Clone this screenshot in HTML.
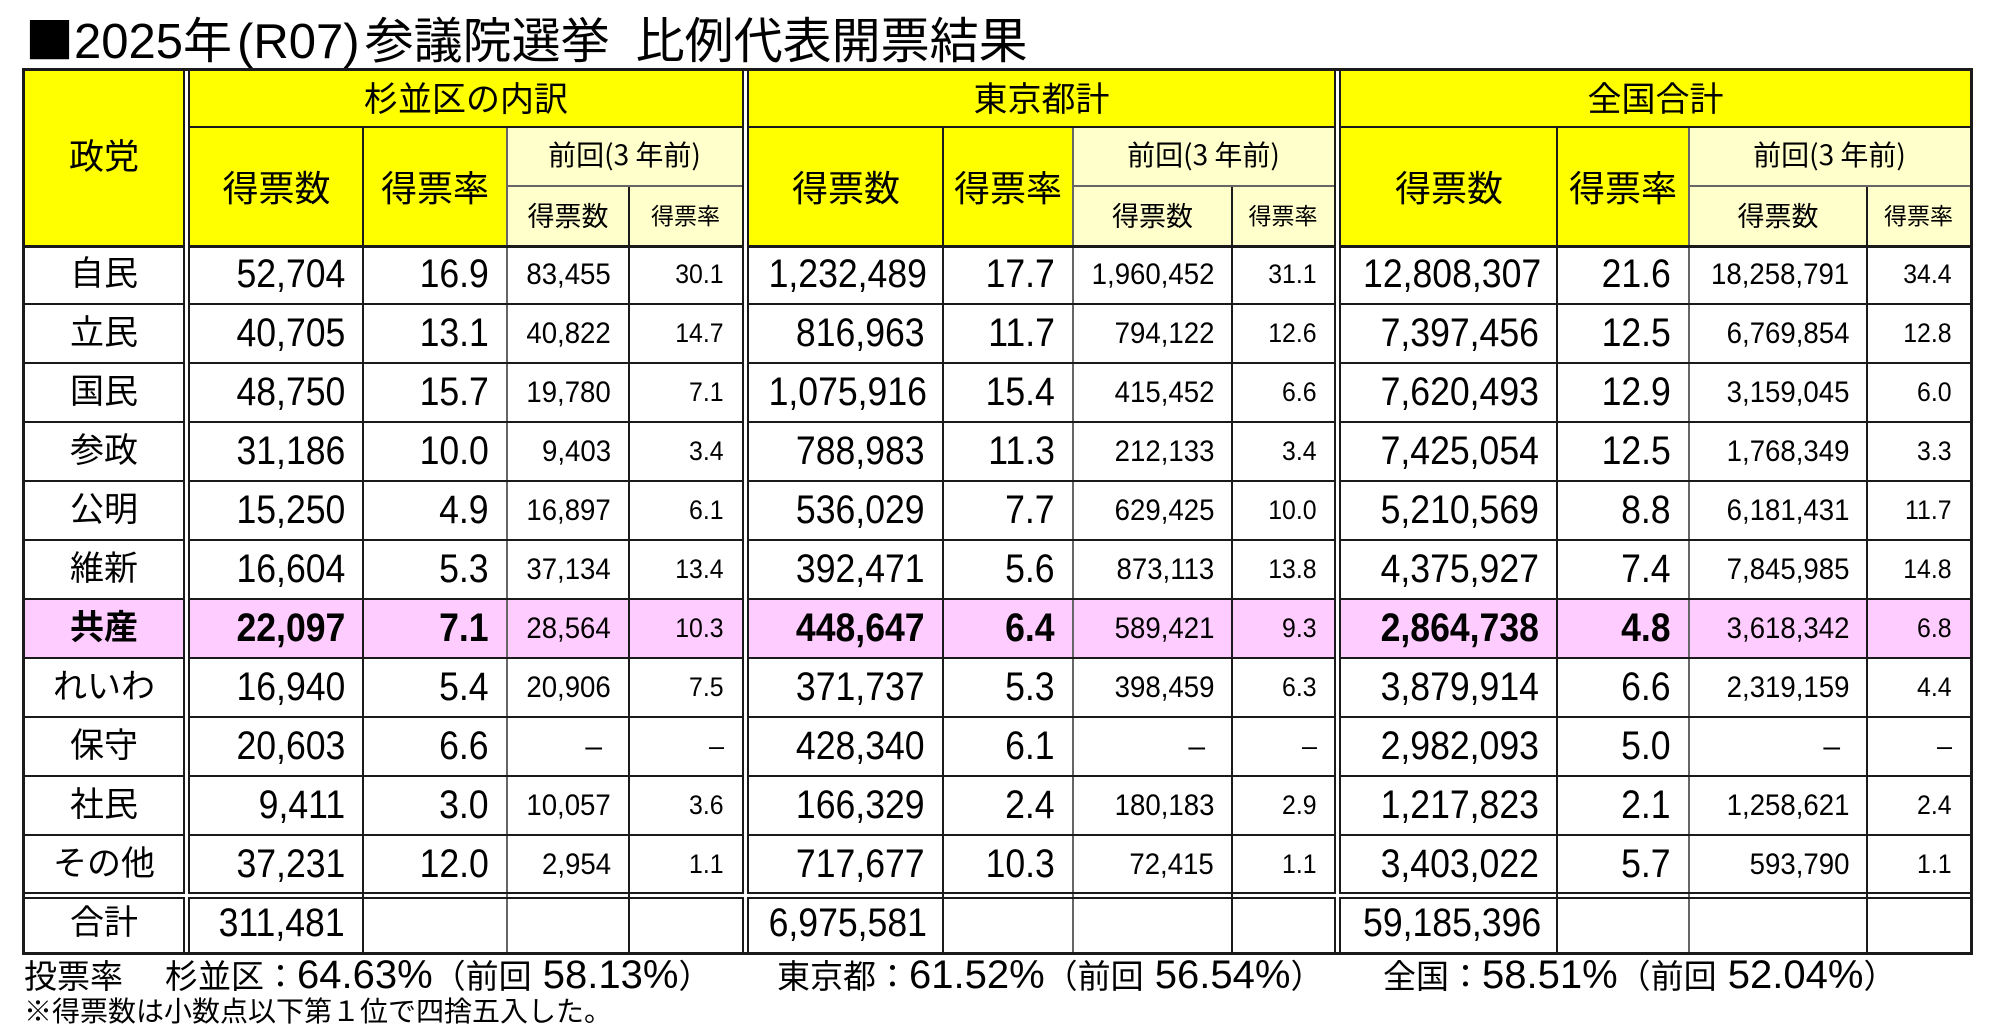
<!DOCTYPE html>
<html><head><meta charset="utf-8">
<style>
html,body{margin:0;padding:0;background:#fff;}
body{width:2000px;height:1033px;position:relative;overflow:hidden;font-family:"Liberation Sans","Noto Sans CJK JP",sans-serif;color:#000;}
.abs{position:absolute;}
.j{font-family:"Noto Sans CJK JP","Liberation Sans",sans-serif;}
.hd{position:absolute;text-align:center;white-space:nowrap;font-family:"Noto Sans CJK JP",sans-serif;}
.L{position:absolute;background:#1a1a1a;}
.G{position:absolute;background:#666;}
.W{position:absolute;background:#fff;}
table.t{position:absolute;left:25px;top:245px;border-collapse:collapse;border-spacing:0;table-layout:fixed;width:1945px;}
table.t td{padding:0;height:59px;line-height:59px;white-space:nowrap;overflow:visible;vertical-align:middle;}
table.t td.p{font-size:34px;text-align:center;}
table.t td.a,table.t td.b{font-size:40px;text-align:right;padding-right:18px;}
table.t td.c{font-size:30px;text-align:right;padding-right:18px;}
table.t td.d{font-size:27px;text-align:right;padding-right:18px;}
table.t td.dc{padding-right:27px;}
.n{display:inline-block;transform:scaleX(.92);transform-origin:100% 50%;}
table.t td.a .n,table.t td.b .n{transform:scaleX(.89);}
tr.k td{background:#ffccff;font-weight:bold;}
table.t tr.k td.c,table.t tr.k td.d{font-weight:normal;}
table.t tr.k td.s{background:#fff;}
.ft{position:absolute;white-space:nowrap;font-size:40px;line-height:40px;}
.ft .k{font-size:33px;font-family:"Noto Sans CJK JP",sans-serif;}
</style></head>
<body>

<!-- Title -->
<div class="abs" style="left:25px;top:13px;font-size:49px;line-height:49px;white-space:nowrap;"><span class="j">■</span>2025<span class="j">年</span><span style="margin-left:5px">(</span>R07<span style="margin-right:5px">)</span><span class="j">参議院選挙</span><span style="display:inline-block;width:26px"></span><span class="j">比例代表開票結果</span></div>

<!-- Header backgrounds -->
<div class="abs" style="left:25px;top:71px;width:1945px;height:174px;background:#ffff00;"></div>
<div class="abs" style="left:507px;top:127px;width:235px;height:118px;background:#ffffcc;"></div>
<div class="abs" style="left:1073px;top:127px;width:261px;height:118px;background:#ffffcc;"></div>
<div class="abs" style="left:1689px;top:127px;width:281px;height:118px;background:#ffffcc;"></div>
<div class="W" style="left:185px;top:71px;width:3px;height:177px;"></div>
<div class="W" style="left:744px;top:71px;width:3px;height:177px;"></div>
<div class="W" style="left:1336px;top:71px;width:3px;height:177px;"></div>

<!-- Header text -->
<div class="hd" style="left:25px;width:158px;top:137px;font-size:35px;line-height:35px;">政党</div>
<div class="hd" style="left:190px;width:552px;top:80px;font-size:34px;line-height:34px;">杉並区の内訳</div>
<div class="hd" style="left:749px;width:585px;top:80px;font-size:34px;line-height:34px;">東京都計</div>
<div class="hd" style="left:1341px;width:629px;top:80px;font-size:34px;line-height:34px;">全国合計</div>

<div class="hd" style="left:190px;width:173px;top:168px;font-size:36px;line-height:36px;">得票数</div>
<div class="hd" style="left:363px;width:144px;top:168px;font-size:36px;line-height:36px;">得票率</div>
<div class="hd" style="left:749px;width:194px;top:168px;font-size:36px;line-height:36px;">得票数</div>
<div class="hd" style="left:943px;width:130px;top:168px;font-size:36px;line-height:36px;">得票率</div>
<div class="hd" style="left:1341px;width:216px;top:168px;font-size:36px;line-height:36px;">得票数</div>
<div class="hd" style="left:1557px;width:132px;top:168px;font-size:36px;line-height:36px;">得票率</div>

<div class="hd" style="left:507px;width:235px;top:140px;font-size:28px;line-height:28px;">前回(3 年前)</div>
<div class="hd" style="left:1073px;width:261px;top:140px;font-size:28px;line-height:28px;">前回(3 年前)</div>
<div class="hd" style="left:1689px;width:281px;top:140px;font-size:28px;line-height:28px;">前回(3 年前)</div>

<div class="hd" style="left:507px;width:122px;top:201px;font-size:27px;line-height:27px;">得票数</div>
<div class="hd" style="left:629px;width:113px;top:203px;font-size:23px;line-height:23px;">得票率</div>
<div class="hd" style="left:1073px;width:159px;top:201px;font-size:27px;line-height:27px;">得票数</div>
<div class="hd" style="left:1232px;width:102px;top:203px;font-size:23px;line-height:23px;">得票率</div>
<div class="hd" style="left:1689px;width:178px;top:201px;font-size:27px;line-height:27px;">得票数</div>
<div class="hd" style="left:1867px;width:103px;top:203px;font-size:23px;line-height:23px;">得票率</div>

<!-- Data table -->
<table class="t">
<colgroup>
<col style="width:158px"><col style="width:7px"><col style="width:173px"><col style="width:144px"><col style="width:122px"><col style="width:113px"><col style="width:7px"><col style="width:194px"><col style="width:130px"><col style="width:159px"><col style="width:103px"><col style="width:6px"><col style="width:216px"><col style="width:132px"><col style="width:178px"><col style="width:103px">
</colgroup>
<tr><td class="p">自民</td><td class="s"></td><td class="a"><span class="n">52,704</span></td><td class="b"><span class="n">16.9</span></td><td class="c"><span class="n">83,455</span></td><td class="d"><span class="n">30.1</span></td><td class="s"></td><td class="a"><span class="n">1,232,489</span></td><td class="b"><span class="n">17.7</span></td><td class="c"><span class="n">1,960,452</span></td><td class="d"><span class="n">31.1</span></td><td class="s"></td><td class="a"><span class="n">12,808,307</span></td><td class="b"><span class="n">21.6</span></td><td class="c"><span class="n">18,258,791</span></td><td class="d"><span class="n">34.4</span></td></tr>
<tr><td class="p">立民</td><td class="s"></td><td class="a"><span class="n">40,705</span></td><td class="b"><span class="n">13.1</span></td><td class="c"><span class="n">40,822</span></td><td class="d"><span class="n">14.7</span></td><td class="s"></td><td class="a"><span class="n">816,963</span></td><td class="b"><span class="n">11.7</span></td><td class="c"><span class="n">794,122</span></td><td class="d"><span class="n">12.6</span></td><td class="s"></td><td class="a"><span class="n">7,397,456</span></td><td class="b"><span class="n">12.5</span></td><td class="c"><span class="n">6,769,854</span></td><td class="d"><span class="n">12.8</span></td></tr>
<tr><td class="p">国民</td><td class="s"></td><td class="a"><span class="n">48,750</span></td><td class="b"><span class="n">15.7</span></td><td class="c"><span class="n">19,780</span></td><td class="d"><span class="n">7.1</span></td><td class="s"></td><td class="a"><span class="n">1,075,916</span></td><td class="b"><span class="n">15.4</span></td><td class="c"><span class="n">415,452</span></td><td class="d"><span class="n">6.6</span></td><td class="s"></td><td class="a"><span class="n">7,620,493</span></td><td class="b"><span class="n">12.9</span></td><td class="c"><span class="n">3,159,045</span></td><td class="d"><span class="n">6.0</span></td></tr>
<tr><td class="p">参政</td><td class="s"></td><td class="a"><span class="n">31,186</span></td><td class="b"><span class="n">10.0</span></td><td class="c"><span class="n">9,403</span></td><td class="d"><span class="n">3.4</span></td><td class="s"></td><td class="a"><span class="n">788,983</span></td><td class="b"><span class="n">11.3</span></td><td class="c"><span class="n">212,133</span></td><td class="d"><span class="n">3.4</span></td><td class="s"></td><td class="a"><span class="n">7,425,054</span></td><td class="b"><span class="n">12.5</span></td><td class="c"><span class="n">1,768,349</span></td><td class="d"><span class="n">3.3</span></td></tr>
<tr><td class="p">公明</td><td class="s"></td><td class="a"><span class="n">15,250</span></td><td class="b"><span class="n">4.9</span></td><td class="c"><span class="n">16,897</span></td><td class="d"><span class="n">6.1</span></td><td class="s"></td><td class="a"><span class="n">536,029</span></td><td class="b"><span class="n">7.7</span></td><td class="c"><span class="n">629,425</span></td><td class="d"><span class="n">10.0</span></td><td class="s"></td><td class="a"><span class="n">5,210,569</span></td><td class="b"><span class="n">8.8</span></td><td class="c"><span class="n">6,181,431</span></td><td class="d"><span class="n">11.7</span></td></tr>
<tr><td class="p">維新</td><td class="s"></td><td class="a"><span class="n">16,604</span></td><td class="b"><span class="n">5.3</span></td><td class="c"><span class="n">37,134</span></td><td class="d"><span class="n">13.4</span></td><td class="s"></td><td class="a"><span class="n">392,471</span></td><td class="b"><span class="n">5.6</span></td><td class="c"><span class="n">873,113</span></td><td class="d"><span class="n">13.8</span></td><td class="s"></td><td class="a"><span class="n">4,375,927</span></td><td class="b"><span class="n">7.4</span></td><td class="c"><span class="n">7,845,985</span></td><td class="d"><span class="n">14.8</span></td></tr>
<tr class="k"><td class="p">共産</td><td class="s"></td><td class="a"><span class="n">22,097</span></td><td class="b"><span class="n">7.1</span></td><td class="c"><span class="n">28,564</span></td><td class="d"><span class="n">10.3</span></td><td class="s"></td><td class="a"><span class="n">448,647</span></td><td class="b"><span class="n">6.4</span></td><td class="c"><span class="n">589,421</span></td><td class="d"><span class="n">9.3</span></td><td class="s"></td><td class="a"><span class="n">2,864,738</span></td><td class="b"><span class="n">4.8</span></td><td class="c"><span class="n">3,618,342</span></td><td class="d"><span class="n">6.8</span></td></tr>
<tr><td class="p">れいわ</td><td class="s"></td><td class="a"><span class="n">16,940</span></td><td class="b"><span class="n">5.4</span></td><td class="c"><span class="n">20,906</span></td><td class="d"><span class="n">7.5</span></td><td class="s"></td><td class="a"><span class="n">371,737</span></td><td class="b"><span class="n">5.3</span></td><td class="c"><span class="n">398,459</span></td><td class="d"><span class="n">6.3</span></td><td class="s"></td><td class="a"><span class="n">3,879,914</span></td><td class="b"><span class="n">6.6</span></td><td class="c"><span class="n">2,319,159</span></td><td class="d"><span class="n">4.4</span></td></tr>
<tr><td class="p">保守</td><td class="s"></td><td class="a"><span class="n">20,603</span></td><td class="b"><span class="n">6.6</span></td><td class="c dc">–</td><td class="d">–</td><td class="s"></td><td class="a"><span class="n">428,340</span></td><td class="b"><span class="n">6.1</span></td><td class="c dc">–</td><td class="d">–</td><td class="s"></td><td class="a"><span class="n">2,982,093</span></td><td class="b"><span class="n">5.0</span></td><td class="c dc">–</td><td class="d">–</td></tr>
<tr><td class="p">社民</td><td class="s"></td><td class="a"><span class="n">9,411</span></td><td class="b"><span class="n">3.0</span></td><td class="c"><span class="n">10,057</span></td><td class="d"><span class="n">3.6</span></td><td class="s"></td><td class="a"><span class="n">166,329</span></td><td class="b"><span class="n">2.4</span></td><td class="c"><span class="n">180,183</span></td><td class="d"><span class="n">2.9</span></td><td class="s"></td><td class="a"><span class="n">1,217,823</span></td><td class="b"><span class="n">2.1</span></td><td class="c"><span class="n">1,258,621</span></td><td class="d"><span class="n">2.4</span></td></tr>
<tr><td class="p">その他</td><td class="s"></td><td class="a"><span class="n">37,231</span></td><td class="b"><span class="n">12.0</span></td><td class="c"><span class="n">2,954</span></td><td class="d"><span class="n">1.1</span></td><td class="s"></td><td class="a"><span class="n">717,677</span></td><td class="b"><span class="n">10.3</span></td><td class="c"><span class="n">72,415</span></td><td class="d"><span class="n">1.1</span></td><td class="s"></td><td class="a"><span class="n">3,403,022</span></td><td class="b"><span class="n">5.7</span></td><td class="c"><span class="n">593,790</span></td><td class="d"><span class="n">1.1</span></td></tr>
<tr><td class="p">合計</td><td class="s"></td><td class="a"><span class="n">311,481</span></td><td class="b"></td><td class="c"></td><td class="d"></td><td class="s"></td><td class="a"><span class="n">6,975,581</span></td><td class="b"></td><td class="c"></td><td class="d"></td><td class="s"></td><td class="a"><span class="n">59,185,396</span></td><td class="b"></td><td class="c"></td><td class="d"></td></tr>
</table>

<!-- Outer border -->
<div class="L" style="left:22px;top:68px;width:1951px;height:3px;"></div>
<div class="L" style="left:22px;top:952px;width:1951px;height:3px;"></div>
<div class="L" style="left:22px;top:68px;width:3px;height:887px;"></div>
<div class="L" style="left:1970px;top:68px;width:3px;height:887px;"></div>

<!-- Double verticals -->
<div class="L" style="left:183px;top:71px;width:2px;height:823px;"></div>
<div class="L" style="left:188px;top:71px;width:2px;height:823px;"></div>
<div class="L" style="left:183px;top:897px;width:2px;height:55px;"></div>
<div class="L" style="left:188px;top:897px;width:2px;height:55px;"></div>
<div class="L" style="left:742px;top:71px;width:2px;height:823px;"></div>
<div class="L" style="left:747px;top:71px;width:2px;height:823px;"></div>
<div class="L" style="left:742px;top:897px;width:2px;height:55px;"></div>
<div class="L" style="left:747px;top:897px;width:2px;height:55px;"></div>
<div class="L" style="left:1334px;top:71px;width:2px;height:823px;"></div>
<div class="L" style="left:1339px;top:71px;width:2px;height:823px;"></div>
<div class="L" style="left:1334px;top:897px;width:2px;height:55px;"></div>
<div class="L" style="left:1339px;top:897px;width:2px;height:55px;"></div>

<!-- Inner verticals -->
<div class="L" style="left:362px;top:127px;width:2px;height:825px;"></div>
<div class="G" style="left:506px;top:127px;width:2px;height:825px;"></div>
<div class="L" style="left:628px;top:186px;width:2px;height:766px;"></div>
<div class="L" style="left:942px;top:127px;width:2px;height:825px;"></div>
<div class="G" style="left:1072px;top:127px;width:2px;height:825px;"></div>
<div class="L" style="left:1231px;top:186px;width:2px;height:766px;"></div>
<div class="L" style="left:1556px;top:127px;width:2px;height:825px;"></div>
<div class="G" style="left:1688px;top:127px;width:2px;height:825px;"></div>
<div class="L" style="left:1866px;top:186px;width:2px;height:766px;"></div>

<!-- Header horizontals -->
<div class="L" style="left:190px;top:126px;width:552px;height:2px;"></div>
<div class="L" style="left:749px;top:126px;width:585px;height:2px;"></div>
<div class="L" style="left:1341px;top:126px;width:629px;height:2px;"></div>
<div class="G" style="left:507px;top:185px;width:235px;height:2px;"></div>
<div class="G" style="left:1073px;top:185px;width:261px;height:2px;"></div>
<div class="G" style="left:1689px;top:185px;width:281px;height:2px;"></div>

<div class="L" style="left:25px;top:245px;width:158px;height:3px;"></div>
<div class="L" style="left:190px;top:245px;width:552px;height:3px;"></div>
<div class="L" style="left:749px;top:245px;width:585px;height:3px;"></div>
<div class="L" style="left:1341px;top:245px;width:629px;height:3px;"></div>

<!-- Row lines -->
<div class="L" style="left:25px;top:303px;width:158px;height:2px;"></div><div class="L" style="left:190px;top:303px;width:552px;height:2px;"></div><div class="L" style="left:749px;top:303px;width:585px;height:2px;"></div><div class="L" style="left:1341px;top:303px;width:629px;height:2px;"></div>
<div class="L" style="left:25px;top:362px;width:158px;height:2px;"></div><div class="L" style="left:190px;top:362px;width:552px;height:2px;"></div><div class="L" style="left:749px;top:362px;width:585px;height:2px;"></div><div class="L" style="left:1341px;top:362px;width:629px;height:2px;"></div>
<div class="L" style="left:25px;top:421px;width:158px;height:2px;"></div><div class="L" style="left:190px;top:421px;width:552px;height:2px;"></div><div class="L" style="left:749px;top:421px;width:585px;height:2px;"></div><div class="L" style="left:1341px;top:421px;width:629px;height:2px;"></div>
<div class="L" style="left:25px;top:480px;width:158px;height:2px;"></div><div class="L" style="left:190px;top:480px;width:552px;height:2px;"></div><div class="L" style="left:749px;top:480px;width:585px;height:2px;"></div><div class="L" style="left:1341px;top:480px;width:629px;height:2px;"></div>
<div class="L" style="left:25px;top:539px;width:158px;height:2px;"></div><div class="L" style="left:190px;top:539px;width:552px;height:2px;"></div><div class="L" style="left:749px;top:539px;width:585px;height:2px;"></div><div class="L" style="left:1341px;top:539px;width:629px;height:2px;"></div>
<div class="L" style="left:25px;top:598px;width:158px;height:2px;"></div><div class="L" style="left:190px;top:598px;width:552px;height:2px;"></div><div class="L" style="left:749px;top:598px;width:585px;height:2px;"></div><div class="L" style="left:1341px;top:598px;width:629px;height:2px;"></div>
<div class="L" style="left:25px;top:657px;width:158px;height:2px;"></div><div class="L" style="left:190px;top:657px;width:552px;height:2px;"></div><div class="L" style="left:749px;top:657px;width:585px;height:2px;"></div><div class="L" style="left:1341px;top:657px;width:629px;height:2px;"></div>
<div class="L" style="left:25px;top:716px;width:158px;height:2px;"></div><div class="L" style="left:190px;top:716px;width:552px;height:2px;"></div><div class="L" style="left:749px;top:716px;width:585px;height:2px;"></div><div class="L" style="left:1341px;top:716px;width:629px;height:2px;"></div>
<div class="L" style="left:25px;top:775px;width:158px;height:2px;"></div><div class="L" style="left:190px;top:775px;width:552px;height:2px;"></div><div class="L" style="left:749px;top:775px;width:585px;height:2px;"></div><div class="L" style="left:1341px;top:775px;width:629px;height:2px;"></div>
<div class="L" style="left:25px;top:834px;width:158px;height:2px;"></div><div class="L" style="left:190px;top:834px;width:552px;height:2px;"></div><div class="L" style="left:749px;top:834px;width:585px;height:2px;"></div><div class="L" style="left:1341px;top:834px;width:629px;height:2px;"></div>
<!-- Double horizontal -->
<div class="L" style="left:25px;top:892px;width:158px;height:2px;"></div><div class="L" style="left:190px;top:892px;width:552px;height:2px;"></div><div class="L" style="left:749px;top:892px;width:585px;height:2px;"></div><div class="L" style="left:1341px;top:892px;width:629px;height:2px;"></div>
<div class="L" style="left:25px;top:897px;width:158px;height:2px;"></div><div class="L" style="left:190px;top:897px;width:552px;height:2px;"></div><div class="L" style="left:749px;top:897px;width:585px;height:2px;"></div><div class="L" style="left:1341px;top:897px;width:629px;height:2px;"></div>

<!-- Footer -->
<div class="ft" style="left:24px;top:954px;"><span class="k">投票率</span></div>
<div class="ft" style="left:165px;top:954px;"><span class="k">杉並区：</span>64.63%<span class="k">（前回</span> 58.13%<span class="k">）</span></div>
<div class="ft" style="left:777px;top:954px;"><span class="k">東京都：</span>61.52%<span class="k">（前回</span> 56.54%<span class="k">）</span></div>
<div class="ft" style="left:1383px;top:954px;"><span class="k">全国：</span>58.51%<span class="k">（前回</span> 52.04%<span class="k">）</span></div>
<div class="abs j" style="left:24px;top:995px;font-size:28px;line-height:30px;white-space:nowrap;">※得票数は小数点以下第１位で四捨五入した。</div>

</body></html>
